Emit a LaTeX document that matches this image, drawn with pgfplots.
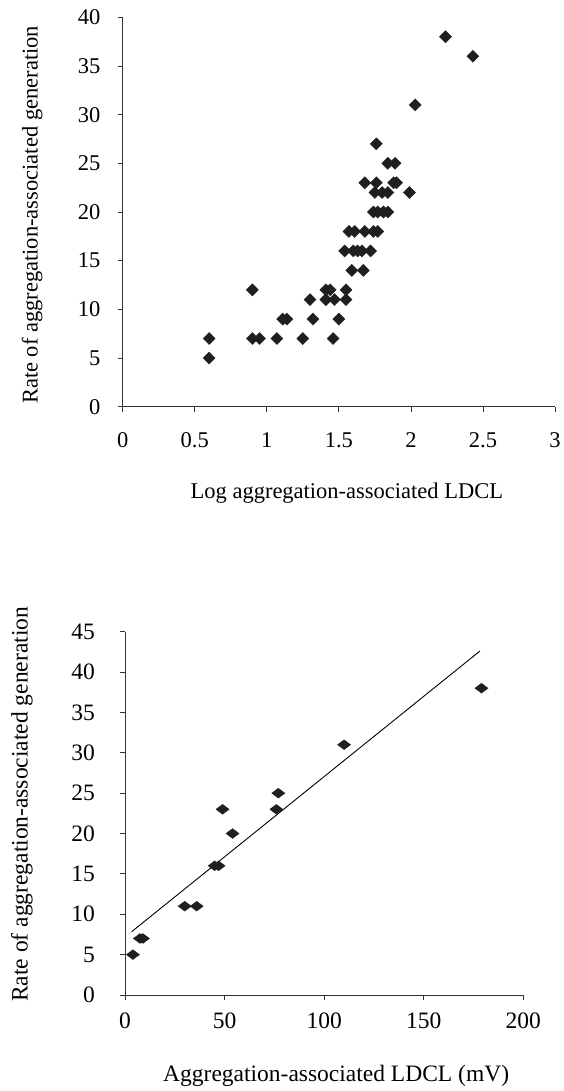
\documentclass[border=0pt]{standalone}
\usepackage{fontspec}
\setmainfont{Liberation Serif}
\usepackage{pgfplots}
\pgfplotsset{compat=1.18}

\definecolor{ink}{HTML}{1F1F1F}
\definecolor{axisgray}{HTML}{333333}

\pgfplotsset{
  panel/.style={
    scale only axis,
    anchor=south west,
    axis lines=left,
    axis line style={-, draw=axisgray, line width=0.9pt},
    tick align=outside,
    major tick length=5pt,
    tick style={axisgray, line width=0.8pt},
    font=\fontsize{22.5}{27}\selectfont,
    /pgf/number format/assume math mode=true,
    clip=false,
    xticklabel style={inner sep=0pt, anchor=north},
    yticklabel style={inner sep=0pt, anchor=east},
    xlabel style={at={(axis description cs:0.5,0)}, anchor=north, inner sep=0pt},
    ylabel style={at={(axis description cs:0,0.5)}, anchor=south, inner sep=0pt},
  }
}

% log-scale measurements (upper panel)
\pgfplotstableread{
x     y
0.60  7
0.60  5
0.90  12
0.90  7
0.95  7
1.07  7
1.11  9
1.14  9
1.25  7
1.30  11
1.32  9
1.41  12
1.44  12
1.41  11
1.47  11
1.46  7
1.50  9
1.55  12
1.55  11
1.59  14
1.67  14
1.54  16
1.60  16
1.63  16
1.66  16
1.72  16
1.57  18
1.61  18
1.68  18
1.74  18
1.77  18
1.74  20
1.77  20
1.81  20
1.84  20
1.68  23
1.76  23
1.88  23
1.90  23
1.75  22
1.80  22
1.84  22
1.99  22
1.76  27
1.84  25
1.89  25
2.03  31
2.24  38
2.43  36
}\logdata

% raw measurements (lower panel)
\pgfplotstableread{
x     y
4     5
7.5   7
9     7
30    11
36    11
45    16
47    16
49    23
54    20
76    23
77    25
110   31
179   38
}\rawdata

\begin{document}
\begin{tikzpicture}[x=1pt, y=1pt]
\path[use as bounding box] (0,0) rectangle (563,1091);

% upper panel
\begin{axis}[panel,
  at={(122.7pt,684.3pt)},
  width=432.3pt, height=389.4pt,
  xmin=0, xmax=3, ymin=0, ymax=40,
  xtick={0,0.5,...,3}, ytick={0,5,...,40},
  xticklabel style={yshift=-21pt},
  yticklabel style={xshift=-17pt},
  xlabel={Log aggregation-associated LDCL},
  xlabel style={yshift=-76pt, xshift=8pt},
  ylabel={Rate of aggregation-associated generation},
  ylabel style={yshift=80pt, xshift=-3pt},
]
\addplot[only marks, mark=square*, mark size=4.3pt,
  mark options={rotate=45, fill=ink, draw=ink, line width=0.3pt}]
  table[x=x, y=y] {\logdata};
\end{axis}

% lower panel
\begin{axis}[panel,
  font=\fontsize{23.5}{28}\selectfont,
  at={(125pt,96pt)},
  width=398.3pt, height=363.3pt,
  xmin=0, xmax=200, ymin=0, ymax=45,
  xtick={0,50,...,200}, ytick={0,5,...,45},
  xticklabel style={yshift=-13pt},
  yticklabel style={xshift=-25pt},
  xlabel={Aggregation-associated LDCL (mV)},
  xlabel style={yshift=-70pt, xshift=12pt},
  ylabel={Rate of aggregation-associated generation},
  ylabel style={yshift=92pt, xshift=9pt},
]
\addplot[black, line width=0.9pt] coordinates {(3.35,7.84) (178.2,42.6)};
\addplot[only marks, mark=diamond*, mark size=6.6pt,
  mark options={rotate=90, fill=ink, draw=ink, line width=0.3pt}]
  table[x=x, y=y] {\rawdata};
\end{axis}
\end{tikzpicture}
\end{document}
